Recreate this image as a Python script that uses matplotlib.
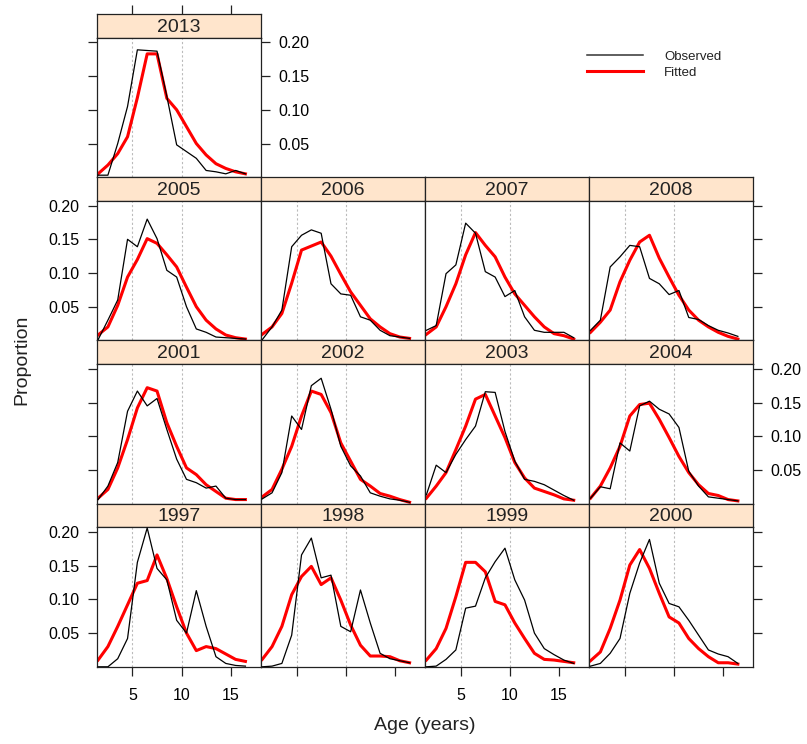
import matplotlib
matplotlib.use("Agg")
import matplotlib.pyplot as plt
from matplotlib.lines import Line2D

plt.rcParams['font.family'] = ['Liberation Sans', 'DejaVu Sans']

# age classes (mid-points)
ages = [1.5 + i for i in range(16)]

# observed / fitted proportions at age, one list per year
obs_2013 = [0.003, 0.003, 0.050, 0.105, 0.189, 0.188, 0.187, 0.120, 0.048, 0.038, 0.028, 0.010, 0.008, 0.005, 0.010, 0.005]
fit_2013 = [0.005, 0.018, 0.035, 0.060, 0.118, 0.183, 0.183, 0.117, 0.100, 0.075, 0.050, 0.033, 0.020, 0.013, 0.008, 0.005]

obs_2005 = [0.001, 0.030, 0.060, 0.150, 0.139, 0.180, 0.151, 0.104, 0.094, 0.050, 0.017, 0.012, 0.005, 0.004, 0.003, 0.002]
fit_2005 = [0.008, 0.020, 0.052, 0.094, 0.120, 0.151, 0.144, 0.127, 0.109, 0.079, 0.050, 0.030, 0.017, 0.008, 0.004, 0.002]

obs_2006 = [0.001, 0.020, 0.045, 0.139, 0.156, 0.164, 0.159, 0.084, 0.069, 0.067, 0.035, 0.030, 0.015, 0.007, 0.005, 0.003]
fit_2006 = [0.009, 0.020, 0.040, 0.085, 0.134, 0.140, 0.146, 0.125, 0.098, 0.072, 0.052, 0.032, 0.020, 0.010, 0.005, 0.003]

obs_2007 = [0.015, 0.022, 0.099, 0.112, 0.174, 0.159, 0.102, 0.094, 0.065, 0.074, 0.035, 0.015, 0.012, 0.012, 0.012, 0.004]
fit_2007 = [0.009, 0.020, 0.050, 0.084, 0.127, 0.160, 0.141, 0.124, 0.094, 0.069, 0.052, 0.035, 0.020, 0.010, 0.007, 0.002]

obs_2008 = [0.015, 0.030, 0.109, 0.124, 0.141, 0.139, 0.092, 0.084, 0.068, 0.074, 0.034, 0.031, 0.022, 0.015, 0.011, 0.006]
fit_2008 = [0.012, 0.027, 0.045, 0.087, 0.119, 0.146, 0.156, 0.122, 0.094, 0.067, 0.045, 0.030, 0.020, 0.012, 0.006, 0.002]

obs_2001 = [0.006, 0.026, 0.061, 0.137, 0.167, 0.145, 0.156, 0.110, 0.066, 0.036, 0.031, 0.023, 0.026, 0.008, 0.006, 0.006]
fit_2001 = [0.008, 0.021, 0.053, 0.095, 0.142, 0.172, 0.167, 0.120, 0.085, 0.053, 0.043, 0.028, 0.018, 0.008, 0.006, 0.006]

obs_2002 = [0.007, 0.016, 0.046, 0.130, 0.110, 0.175, 0.186, 0.140, 0.085, 0.056, 0.041, 0.016, 0.011, 0.007, 0.005, 0.002]
fit_2002 = [0.010, 0.021, 0.051, 0.085, 0.130, 0.167, 0.162, 0.135, 0.090, 0.063, 0.036, 0.026, 0.015, 0.011, 0.006, 0.002]

obs_2003 = [0.013, 0.057, 0.046, 0.073, 0.095, 0.115, 0.166, 0.165, 0.107, 0.063, 0.036, 0.033, 0.028, 0.020, 0.012, 0.005]
fit_2003 = [0.008, 0.026, 0.046, 0.080, 0.115, 0.155, 0.162, 0.130, 0.098, 0.061, 0.038, 0.023, 0.018, 0.013, 0.007, 0.005]

obs_2004 = [0.008, 0.025, 0.022, 0.090, 0.078, 0.145, 0.152, 0.140, 0.133, 0.113, 0.048, 0.026, 0.010, 0.008, 0.006, 0.004]
fit_2004 = [0.008, 0.026, 0.053, 0.085, 0.130, 0.147, 0.149, 0.125, 0.098, 0.070, 0.046, 0.028, 0.015, 0.012, 0.006, 0.004]

obs_1997 = [0.000, 0.000, 0.012, 0.042, 0.155, 0.206, 0.146, 0.129, 0.069, 0.050, 0.113, 0.060, 0.015, 0.005, 0.002, 0.001]
fit_1997 = [0.010, 0.030, 0.060, 0.092, 0.124, 0.128, 0.166, 0.131, 0.089, 0.050, 0.024, 0.030, 0.027, 0.019, 0.011, 0.008]

obs_1998 = [0.000, 0.001, 0.005, 0.047, 0.166, 0.191, 0.132, 0.136, 0.060, 0.052, 0.114, 0.065, 0.020, 0.012, 0.009, 0.006]
fit_1998 = [0.011, 0.030, 0.060, 0.107, 0.134, 0.149, 0.122, 0.132, 0.099, 0.062, 0.032, 0.016, 0.016, 0.015, 0.009, 0.006]

obs_1999 = [0.000, 0.001, 0.011, 0.025, 0.087, 0.090, 0.132, 0.156, 0.176, 0.129, 0.099, 0.050, 0.027, 0.018, 0.010, 0.005]
fit_1999 = [0.010, 0.027, 0.057, 0.104, 0.155, 0.155, 0.141, 0.097, 0.092, 0.065, 0.042, 0.020, 0.011, 0.010, 0.008, 0.006]

obs_2000 = [0.001, 0.005, 0.020, 0.042, 0.109, 0.154, 0.189, 0.124, 0.094, 0.089, 0.069, 0.047, 0.025, 0.019, 0.015, 0.005]
fit_2000 = [0.009, 0.022, 0.057, 0.099, 0.151, 0.174, 0.146, 0.109, 0.074, 0.065, 0.042, 0.027, 0.015, 0.006, 0.006, 0.004]

observed = {2013: obs_2013, 2005: obs_2005, 2006: obs_2006, 2007: obs_2007, 2008: obs_2008,
            2001: obs_2001, 2002: obs_2002, 2003: obs_2003, 2004: obs_2004,
            1997: obs_1997, 1998: obs_1998, 1999: obs_1999, 2000: obs_2000}
fitted = {2013: fit_2013, 2005: fit_2005, 2006: fit_2006, 2007: fit_2007, 2008: fit_2008,
          2001: fit_2001, 2002: fit_2002, 2003: fit_2003, 2004: fit_2004,
          1997: fit_1997, 1998: fit_1998, 1999: fit_1999, 2000: fit_2000}

# (year, row, col) - row 0 is the top
layout = [(2013, 0, 0),
          (2005, 1, 0), (2006, 1, 1), (2007, 1, 2), (2008, 1, 3),
          (2001, 2, 0), (2002, 2, 1), (2003, 2, 2), (2004, 2, 3),
          (1997, 3, 0), (1998, 3, 1), (1999, 3, 2), (2000, 3, 3)]

yticks = [0.05, 0.10, 0.15, 0.20]
ytick_labels = ['0.05', '0.10', '0.15', '0.20']
xticks = [5, 10, 15]

W, H = 807, 744
left0, top0 = 96.7, 14.0
col_w, row_h, strip_h = 164.15, 163.2, 23.7
frame_col = '#222222'


def rect(x, y, w, h):
    return [x / W, 1 - (y + h) / H, w / W, h / H]


fig = plt.figure(figsize=(W / 100, H / 100), dpi=100)

for year, r, c in layout:
    x = left0 + c * col_w
    y = top0 + r * row_h

    # strip
    sax = fig.add_axes(rect(x, y, col_w, strip_h))
    sax.set_facecolor('#FFE5CC')
    sax.set_xlim(1.36, 18.07)
    sax.set_yticks([])
    sax.text(0.5, 0.45, str(year), transform=sax.transAxes,
             ha='center', va='center', fontsize=14, color='#222222')
    if r == 0:
        sax.set_xticks(xticks)
        sax.tick_params(axis='x', bottom=False, labelbottom=False, top=True,
                        labeltop=False, direction='out', length=6.5, width=0.9,
                        color=frame_col)
    else:
        sax.set_xticks([])
    for s in sax.spines.values():
        s.set_color(frame_col)
        s.set_linewidth(0.9)

    # panel
    ax = fig.add_axes(rect(x, y + strip_h, col_w, row_h - strip_h))
    ax.axvline(5, color='#bbbbbb', lw=0.8, ls=(0, (2, 2)), zorder=1)
    ax.axvline(10, color='#bbbbbb', lw=0.8, ls=(0, (2, 2)), zorder=1)
    ax.plot(ages, observed[year], color='black', lw=0.9, zorder=3)
    ax.plot(ages, fitted[year], color='red', lw=2.2, zorder=2,
            solid_joinstyle='round')
    ax.set_xlim(1.36, 18.07)
    ax.set_ylim(0, 0.207)
    ax.set_xticks(xticks)
    ax.set_yticks(yticks, labels=ytick_labels)
    ax.tick_params(direction='out', length=6.5, width=0.9, color=frame_col,
                   labelsize=11.5, pad=6,
                   top=False, labeltop=False,
                   bottom=(r == 3), labelbottom=(r == 3 and c in (0, 2)),
                   left=(c == 0), labelleft=(c == 0 and r in (1, 3)),
                   right=(c == 3 or r == 0),
                   labelright=(r == 0 or (r == 2 and c == 3)))
    ax.tick_params(axis='x', pad=9)
    for s in ax.spines.values():
        s.set_color(frame_col)
        s.set_linewidth(0.9)

# legend
fig.add_artist(Line2D([586.7 / W, 642.7 / W], [1 - 55 / H] * 2, color='#333333', lw=1.1))
fig.add_artist(Line2D([586.7 / W, 642.7 / W], [1 - 70.7 / H] * 2, color='red', lw=2.2))
fig.text(664 / W, 1 - 56.5 / H, 'Observed', fontsize=9.5, va='center', color='#222222')
fig.text(664 / W, 1 - 73 / H, 'Fitted', fontsize=9.5, va='center', color='#222222')

fig.text(22 / W, 1 - 360 / H, 'Proportion', rotation=90, ha='center', va='center',
         fontsize=14, color='#222222')
fig.text(425 / W, 1 - 725 / H, 'Age (years)', ha='center', va='center',
         fontsize=14, color='#222222')

plt.savefig('out.png', dpi=100)
plt.close()
